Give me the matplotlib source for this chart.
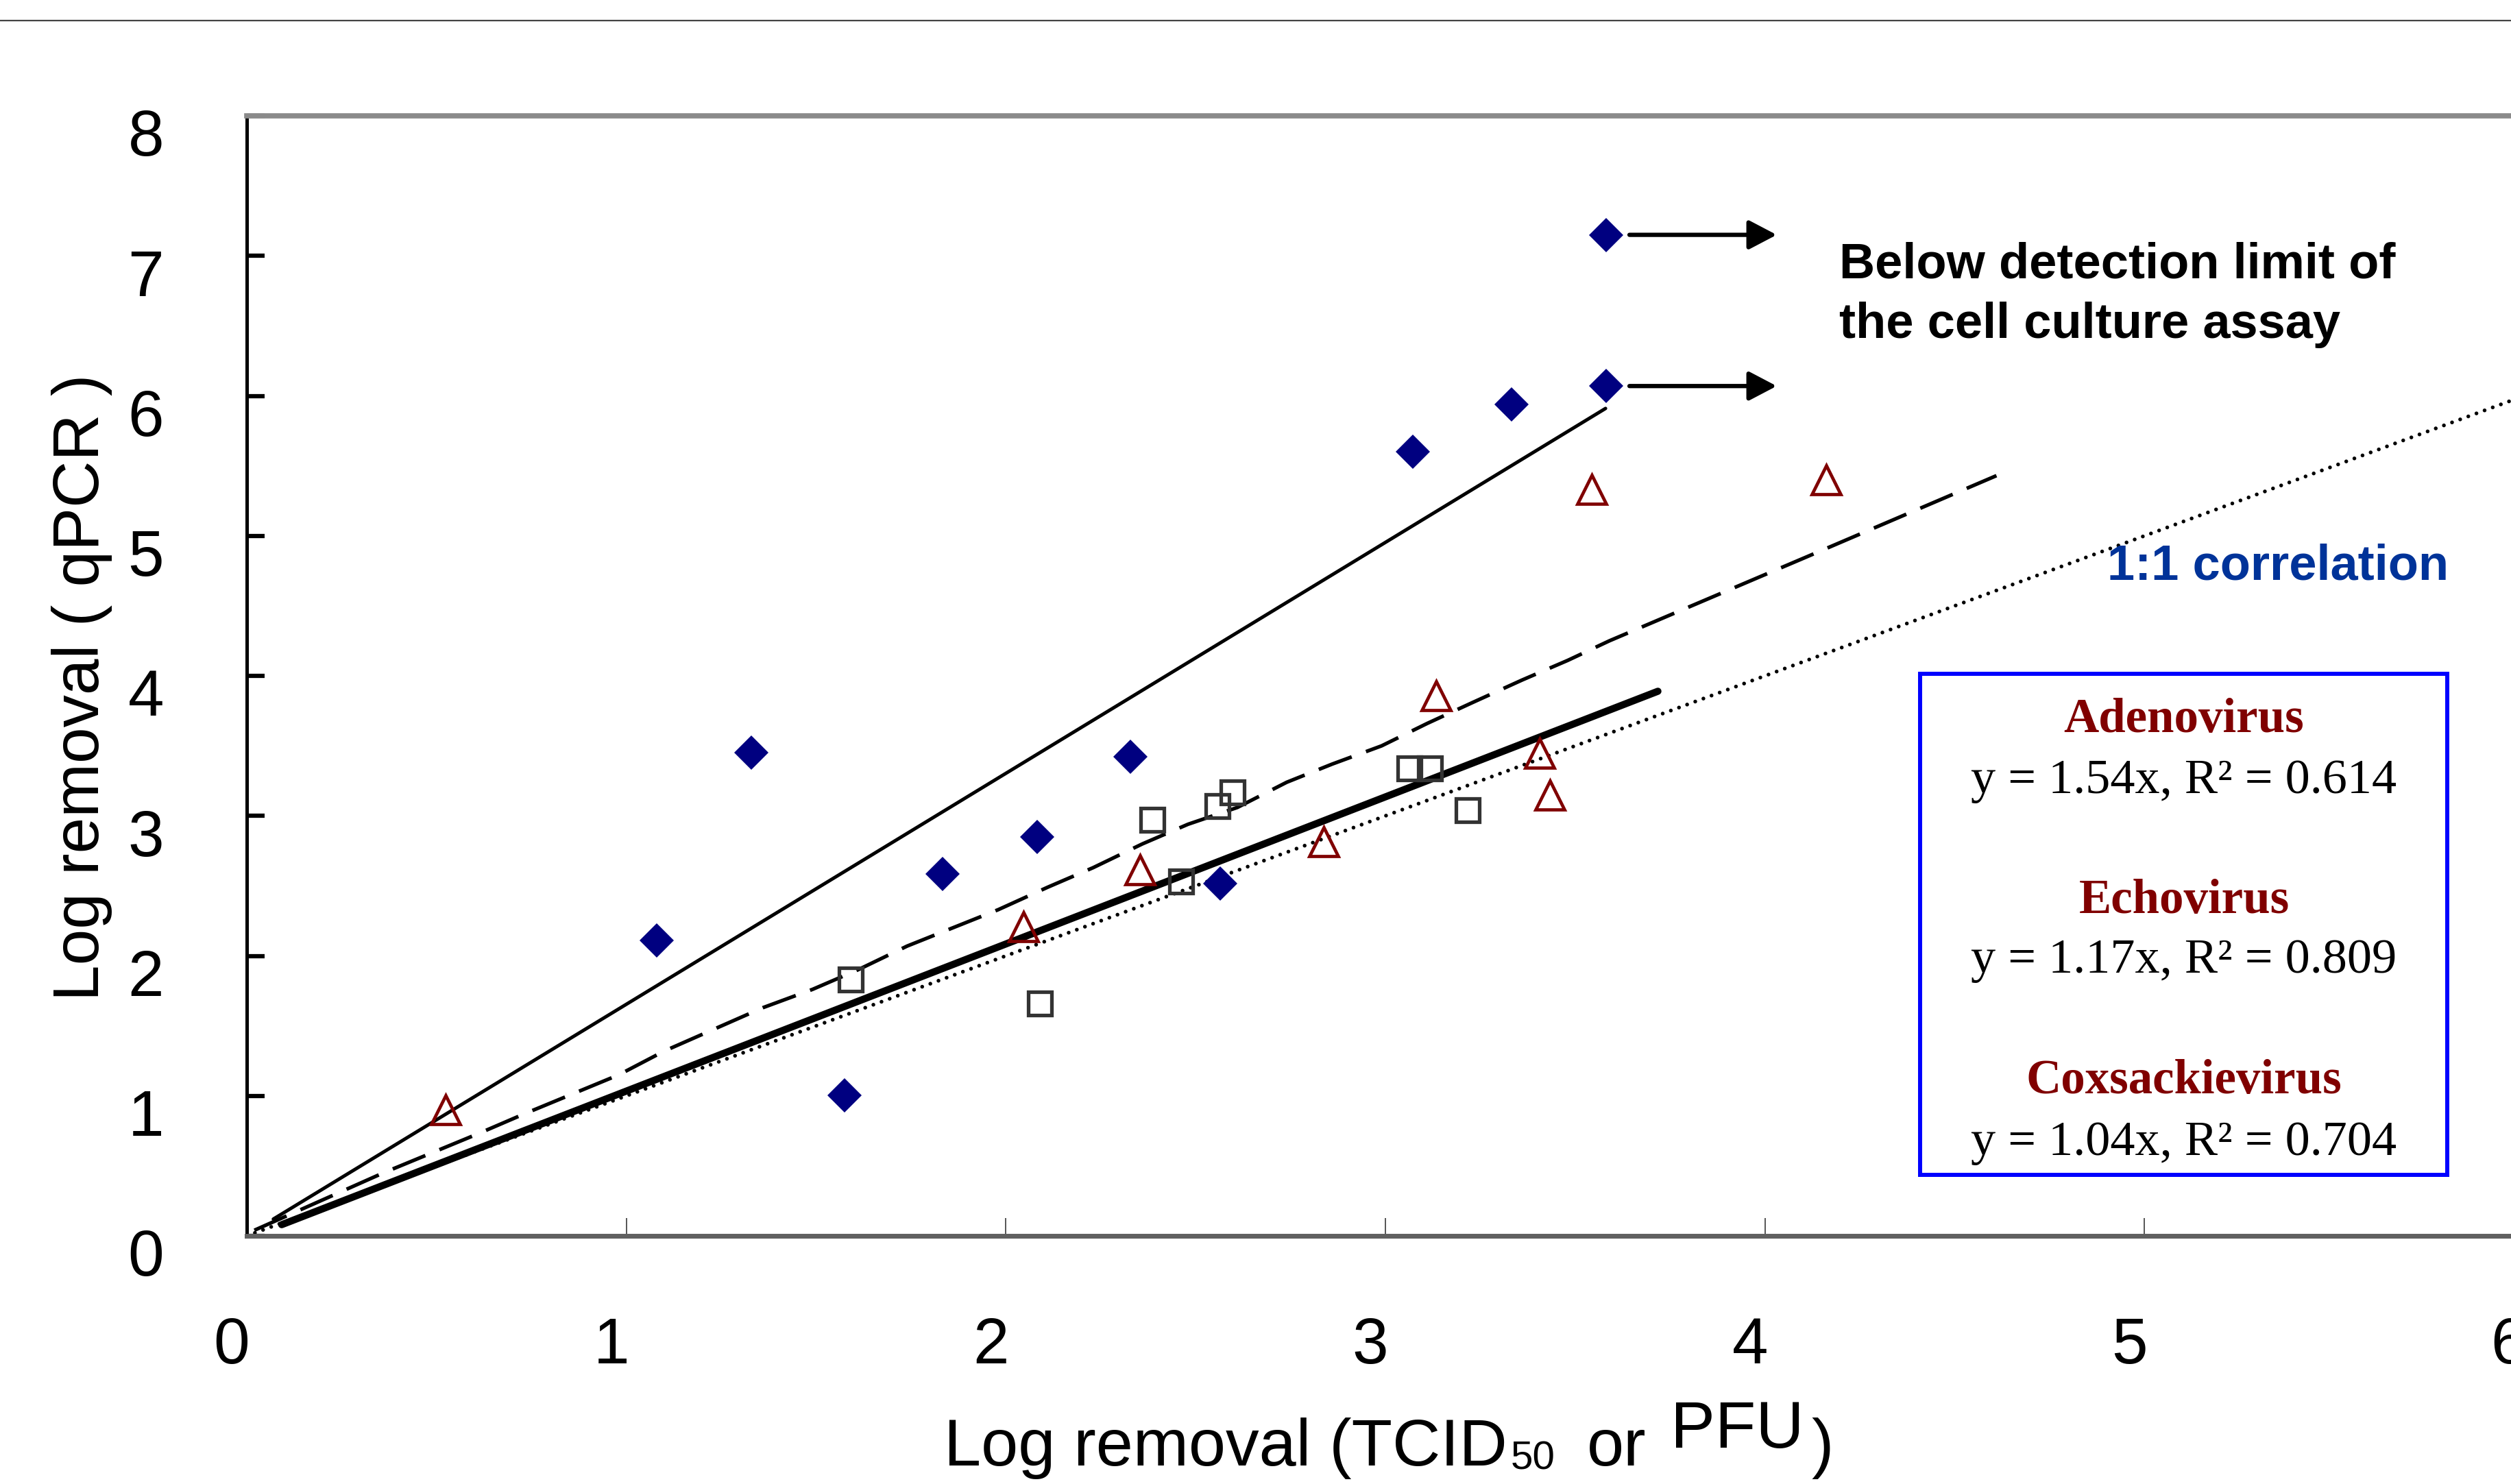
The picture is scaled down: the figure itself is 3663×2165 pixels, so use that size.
import matplotlib
matplotlib.use('Agg')
import matplotlib.pyplot as plt
from matplotlib.lines import Line2D
from matplotlib.patches import Rectangle
from matplotlib.transforms import ScaledTranslation

plt.rcParams['lines.scale_dashes'] = False
plt.rcParams['font.family'] = ['Liberation Sans', 'DejaVu Sans']

# Adenovirus, filled diamonds
adeno_x = [1.08, 1.33, 1.575, 1.834, 2.083, 2.329, 2.565, 3.073, 3.333]
adeno_y = [2.11, 3.45, 1.005, 2.584, 2.85, 3.42, 2.515, 5.60, 5.94]
# adenovirus points below the detection limit of the cell culture assay
censored_x = [3.581, 3.581]
censored_y = [7.15, 6.07]

# Echovirus, open triangles
echo_x = [0.523, 2.046, 2.353, 2.837, 3.134, 3.407, 3.433, 3.544, 4.162]
echo_y = [0.90, 2.21, 2.615, 2.816, 3.857, 3.447, 3.15, 5.33, 5.40]

# Coxsackievirus, open squares
coxs_x = [1.592, 2.09, 2.386, 2.461, 2.558, 2.597, 3.063, 3.117, 3.216]
coxs_y = [1.83, 1.66, 2.97, 2.53, 3.07, 3.17, 3.34, 3.34, 3.04]

# fitted lines as drawn in the figure
adeno_fit_x = [0.07, 3.58]
adeno_fit_y = [0.12, 5.91]
echo_fit_x = [0.02, 0.36, 0.61, 0.73, 0.98, 1.10, 1.36, 1.49, 1.61, 1.74, 1.86,
              1.98, 2.11, 2.23, 2.36, 2.48, 2.61, 2.74, 2.86, 2.99, 3.11, 3.23,
              3.36, 3.48, 3.59, 4.11, 4.36, 4.61]
echo_fit_y = [0.04, 0.45, 0.73, 0.87, 1.15, 1.32, 1.63, 1.76, 1.90, 2.07, 2.20,
              2.33, 2.49, 2.63, 2.80, 2.94, 3.06, 3.24, 3.37, 3.50, 3.66, 3.81,
              3.97, 4.11, 4.25, 4.85, 5.14, 5.43]
coxs_fit_x = [0.092, 3.718]
coxs_fit_y = [0.08, 3.89]
one_x = [0, 6]
one_y = [0, 6]

names = ['Adenovirus', 'Echovirus', 'Coxsackievirus']
equations = ['y = 1.54x, R² = 0.614', 'y = 1.17x, R² = 0.809', 'y = 1.04x, R² = 0.704']

W, H = 3663, 2165
fig = plt.figure(figsize=(W / 100, H / 100), dpi=100)
ax = fig.add_axes([360 / W, 1 - 1803 / H, (3682 - 360) / W, (1803 - 169) / H])

# lines
ax.plot(one_x, one_y, color='k', lw=4.0, dashes=(0.01, 9.1), dash_capstyle='round', zorder=2)
ax.plot(adeno_fit_x, adeno_fit_y, color='k', lw=3.6, solid_capstyle='round', zorder=2)
ax.plot(echo_fit_x, echo_fit_y, color='k', lw=3.8, dashes=(37, 16), dash_capstyle='butt', zorder=2)
ax.plot(coxs_fit_x, coxs_fit_y, color='k', lw=7.5, solid_capstyle='round', zorder=2)

# markers
ax.plot(adeno_x + censored_x, adeno_y + censored_y, ls='none', marker='D', ms=25,
        color='#000080', mew=0, zorder=4)
ax.plot(echo_x, echo_y, ls='none', marker='^', ms=30, mfc='none', mec='#800000', mew=3.4, zorder=4)
ax.plot(coxs_x, coxs_y, ls='none', marker='s', ms=24, mfc='none', mec='#333333', mew=3.8, zorder=4)

# arrows for censored points
for cx, cy in zip(censored_x, censored_y):
    ax.annotate('', xy=(cx + 0.45, cy), xytext=(cx + 0.062, cy),
                arrowprops=dict(arrowstyle='-|>,head_length=0.4,head_width=0.21',
                                mutation_scale=62, lw=4.5, color='k',
                                shrinkA=0, shrinkB=0), zorder=4)

ax.set_xlim(0, 6)
ax.set_ylim(0, 8)
ax.set_xticks(range(0, 7))
ax.set_yticks(range(0, 9))

ax.spines['left'].set_color('k')
ax.spines['left'].set_linewidth(3.6)
ax.spines['top'].set_color('#8a8a8a')
ax.spines['top'].set_linewidth(5.5)
ax.spines['bottom'].set_color('#606060')
ax.spines['bottom'].set_linewidth(5)
ax.spines['right'].set_visible(False)

ax.tick_params(axis='y', direction='in', length=19, width=4.5, color='k', pad=87, labelsize=68)
ax.tick_params(axis='x', direction='in', length=19, width=1.4, color='#555555', pad=84, labelsize=68)
for lab in ax.get_yticklabels():
    lab.set_transform(lab.get_transform() + ScaledTranslation(0, -0.24, fig.dpi_scale_trans))
for lab in ax.get_xticklabels():
    lab.set_transform(lab.get_transform() + ScaledTranslation(-0.22, 0, fig.dpi_scale_trans))

# axis labels
fig.text(144 / W, 1 - 1003 / H, 'Log removal ( qPCR )', rotation=90, rotation_mode='anchor',
         ha='center', va='baseline', fontsize=68)
fig.text(1377 / W, 1 - 2138 / H, 'Log removal (TCID', fontsize=70, va='baseline')
fig.text(2204 / W, 1 - 2143 / H, '50', fontsize=42, va='baseline')
fig.text(2315 / W, 1 - 2138 / H, 'or', fontsize=70, va='baseline')
fig.text(2437 / W, 1 - 2112 / H, 'PFU', fontsize=70, va='baseline')
fig.text(2642 / W, 1 - 2138 / H, ')', fontsize=70, va='baseline')

# annotations
fig.text(2683 / W, 1 - 406 / H, 'Below detection limit of', fontsize=52, fontweight='bold', va='baseline')
fig.text(2683 / W, 1 - 493 / H, 'the cell culture assay', fontsize=52, fontweight='bold', va='baseline')
fig.text(3074 / W, 1 - 846 / H, '1:1 correlation', fontsize=52, fontweight='bold',
         color='#003399', va='baseline')

# equation box
ax.add_patch(Rectangle((2801 / W, 1 - 1714 / H), (3570 - 2801) / W, (1714 - 983) / H,
                       transform=fig.transFigure, fc='white', ec='#0000ff', lw=4.3,
                       zorder=5, clip_on=False))
name_base = [1068, 1332, 1595]
eq_base = [1157, 1419, 1685]
for name, eq, nb, eb in zip(names, equations, name_base, eq_base):
    fig.text(3186 / W, 1 - nb / H, name, family=['Liberation Serif', 'DejaVu Serif'],
             fontsize=51, fontweight='bold', color='#800000', ha='center', va='baseline')
    fig.text(3186 / W, 1 - eb / H, eq, family=['Liberation Serif', 'DejaVu Serif'],
             fontsize=52, color='k', ha='center', va='baseline')

# thin rule at the top of the figure
fig.add_artist(Line2D([0, 1], [1 - 30 / H] * 2, transform=fig.transFigure, color='#444444', lw=1.6))

fig.savefig('out.png', dpi=100, facecolor='white')
